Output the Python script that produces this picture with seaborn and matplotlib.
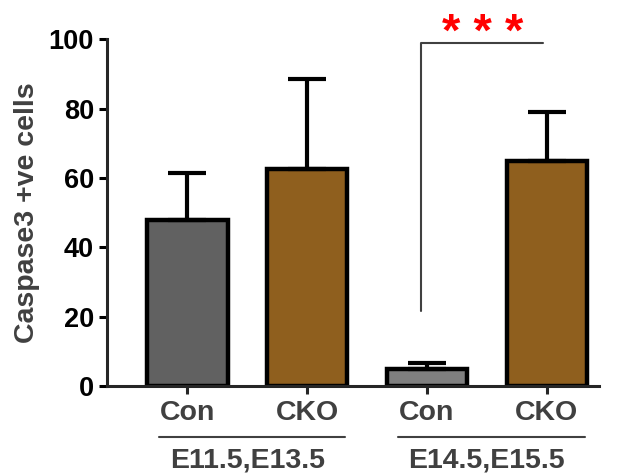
import matplotlib
matplotlib.use("Agg")
import matplotlib.pyplot as plt
import seaborn as sns
import pandas as pd

# data
conditions = ["Con", "CKO", "Con", "CKO"]
stages = ["E11.5,E13.5", "E11.5,E13.5", "E14.5,E15.5", "E14.5,E15.5"]
means = [48, 62.5, 5, 65]
sems = [13.3, 26, 1.5, 14]
bar_colors = ["#616161", "#8f5f1e", "#7f7f7f", "#8f5f1e"]
group_labels = ["E11.5,E13.5", "E14.5,E15.5"]
sig_label = "* * *"

df = pd.DataFrame({"pos": [str(i) for i in range(4)], "mean": means})

sns.set_style("ticks")
plt.rcParams["font.family"] = ["Liberation Sans", "DejaVu Sans"]

fig = plt.figure(figsize=(6.23, 4.73), dpi=100)
ax = fig.add_axes([0.172, 0.184, 0.79, 0.733])

sns.barplot(data=df, x="pos", y="mean", hue="pos", palette=bar_colors,
            saturation=1, legend=False, width=0.67, edgecolor="black",
            linewidth=3.2, errorbar=None, ax=ax)

# upward-only error bars
ax.errorbar(range(4), means, yerr=[[0] * 4, sems], fmt="none",
            ecolor="black", elinewidth=3, capsize=14, capthick=3, zorder=1)

ax.set_xlim(-0.67, 3.44)
ax.set_ylim(0, 100)
ax.set_yticks([0, 20, 40, 60, 80, 100])
ax.set_xticks(range(4))
ax.set_xticklabels([""] * 4)
ax.set_xlabel("")
ax.set_ylabel("Caspase3 +ve cells", fontsize=20.5, fontweight="bold",
              color="#404040", labelpad=6)
ax.tick_params(axis="y", labelsize=19.5, width=2.2, length=6, colors="black")
ax.tick_params(axis="x", width=2.2, length=6)
for lbl in ax.get_yticklabels():
    lbl.set_fontweight("bold")
for side in ["left", "bottom"]:
    ax.spines[side].set_linewidth(2.2)
sns.despine(ax=ax)

# category labels under ticks
trans = ax.get_xaxis_transform()
for i, c in enumerate(conditions):
    ax.text(i, -0.077, c, transform=trans, ha="center", va="center",
            fontsize=20.5, fontweight="bold", color="#404040", clip_on=False)

# group lines and labels
for g, name in enumerate(group_labels):
    x0, x1 = 2 * g - 0.24, 2 * g + 1.32
    ax.plot([x0, x1], [-0.147, -0.147], transform=trans, color="#404040",
            lw=1.5, clip_on=False)
    ax.text(2 * g + 0.5, -0.216, name, transform=trans, ha="center",
            va="center", fontsize=20.5, fontweight="bold", color="#404040",
            clip_on=False)

# significance bracket
ax.plot([1.95, 1.95, 2.97], [21.5, 98.8, 98.8], color="#404040", lw=1.5,
        clip_on=False)
ax.text(2.47, 98, sig_label, ha="center", va="baseline", fontsize=34,
        fontweight="bold", color="red", clip_on=False)

fig.savefig("out.png", dpi=100)
